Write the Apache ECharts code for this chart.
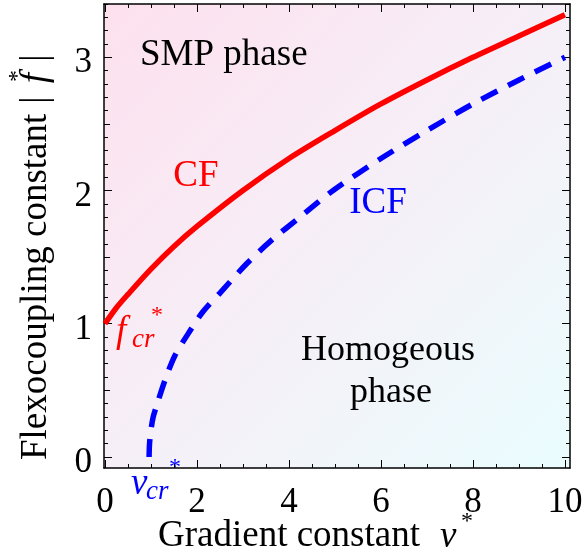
<!DOCTYPE html>
<html>
<head>
<meta charset="utf-8">
<script src="https://cdn.jsdelivr.net/npm/echarts@6/dist/echarts.min.js"></script>
<style>
  html, body { margin: 0; padding: 0; background: #fff; }
  #main { width: 586px; height: 557px; }
</style>
</head>
<body>
<div id="main"></div>
<script>
// CF curve (solid red) and ICF curve (dashed blue)
var cfV = [0, 0.25, 0.5, 1, 1.5, 2, 3, 4, 5, 6, 7, 8, 9, 10];
var cfF = [1.0, 1.12, 1.22, 1.41, 1.58, 1.73, 2.0, 2.24, 2.45, 2.65, 2.83, 3.0, 3.16, 3.32];
var icfV = [0.96, 0.97, 1.0, 1.05, 1.12, 1.3, 1.52, 1.8, 2.13, 2.5, 3.08, 3.6, 4.24, 4.96, 6, 7, 8, 9, 10];
var icfF = [0.0, 0.1, 0.2, 0.3, 0.38, 0.57, 0.76, 0.92, 1.09, 1.23, 1.45, 1.62, 1.80, 2.0, 2.24, 2.45, 2.65, 2.83, 3.0];

// tick labels
var xLabels = [0, 2, 4, 6, 8, 10];
var yLabels = [0, 1, 2, 3];
var xMinor = [];
for (var i = 0; i <= 20; i++) xMinor.push(i * 0.5);
var yMinor = [];
for (var j = 0; j <= 34; j++) yMinor.push(j / 10);
var yHalf = [0.5, 1.5, 2.5];

var serif = '"Liberation Serif", "DejaVu Serif", serif';

function pairs(xs, ys) {
  var out = [];
  for (var k = 0; k < xs.length; k++) out.push([xs[k], ys[k]]);
  return out;
}

var X_MIN = -0.02, X_MAX = 10.11;
var Y_MIN = -0.083, Y_MAX = 3.4;

function xAx(pos, ticks, len, showLine, labels) {
  return {
    type: 'value', position: pos, min: X_MIN, max: X_MAX,
    axisLine: { show: showLine, onZero: false, lineStyle: { color: '#000', width: 1.5 } },
    axisTick: { show: true, inside: true, length: len, customValues: ticks, lineStyle: { color: '#000', width: 1 } },
    axisLabel: labels ? {
      show: true, customValues: labels, margin: 17,
      fontFamily: serif, fontSize: 35, color: '#000'
    } : { show: false },
    splitLine: { show: false }
  };
}

function yAx(pos, ticks, len, showLine, labels) {
  return {
    type: 'value', position: pos, min: Y_MIN, max: Y_MAX,
    axisLine: { show: showLine, onZero: false, lineStyle: { color: '#000', width: 1.5 } },
    axisTick: { show: true, inside: true, length: len, customValues: ticks, lineStyle: { color: '#000', width: 1 } },
    axisLabel: labels ? {
      show: true, customValues: labels, margin: 12,
      verticalAlign: 'top', lineHeight: 12,
      fontFamily: serif, fontSize: 35, color: '#000'
    } : { show: false },
    splitLine: { show: false }
  };
}

var chart = echarts.init(document.getElementById('main'), null, { renderer: 'canvas' });

var option = {
  backgroundColor: '#ffffff',
  animation: false,
  grid: {
    left: 104, right: 16, top: 4, bottom: 89,
    show: true, borderWidth: 0,
    backgroundColor: {
      type: 'linear', x: 0, y: 0, x2: 1, y2: 1,
      colorStops: [
        { offset: 0, color: '#fde0ee' },
        { offset: 0.5, color: '#f6eff7' },
        { offset: 1, color: '#eafdfe' }
      ]
    }
  },
  xAxis: [
    xAx('bottom', xLabels, 8, true, xLabels),
    xAx('bottom', xMinor, 4, false, null),
    xAx('top', xLabels, 8, true, null),
    xAx('top', xMinor, 4, false, null)
  ],
  yAxis: [
    yAx('left', yLabels, 8, true, yLabels),
    yAx('left', yMinor, 4, false, null),
    yAx('left', yHalf, 6, false, null),
    yAx('right', yLabels, 8, true, null),
    yAx('right', yMinor, 4, false, null),
    yAx('right', yHalf, 6, false, null)
  ],
  series: [
    {
      name: 'CF', type: 'line', xAxisIndex: 0, yAxisIndex: 0,
      data: pairs(cfV, cfF), smooth: 0.3, showSymbol: false,
      lineStyle: { color: '#ff0000', width: 5.5 }
    },
    {
      name: 'ICF', type: 'line', xAxisIndex: 0, yAxisIndex: 0,
      data: pairs(icfV, icfF), smooth: 0.3, showSymbol: false,
      lineStyle: { color: '#0000ff', width: 5.5, type: [18, 12], cap: 'butt' }
    }
  ],
  graphic: [
    { type: 'text', left: 140, top: 37, style: { text: 'SMP phase', font: '37px ' + serif, fill: '#000' } },
    { type: 'text', x: 196, y: 176, style: { text: 'CF', font: '37px ' + serif, fill: '#ff0000', align: 'center', verticalAlign: 'middle' } },
    { type: 'text', x: 378, y: 203, style: { text: 'ICF', font: '37px ' + serif, fill: '#0000ff', align: 'center', verticalAlign: 'middle' } },
    { type: 'text', x: 388, y: 351, style: { text: 'Homogeous', font: '36px ' + serif, fill: '#000', align: 'center', verticalAlign: 'middle' } },
    { type: 'text', x: 391, y: 393, style: { text: 'phase', font: '36px ' + serif, fill: '#000', align: 'center', verticalAlign: 'middle' } },
    // f_cr*
    { type: 'text', x: 116, y: 332, style: { text: 'f', font: 'italic 37px ' + serif, fill: '#ff0000', align: 'left', verticalAlign: 'middle' } },
    { type: 'text', x: 132, y: 340, style: { text: 'cr', font: 'italic 27px ' + serif, fill: '#ff0000', align: 'left', verticalAlign: 'middle' } },
    { type: 'text', x: 157, y: 316, style: { text: '*', font: '24px ' + serif, fill: '#ff0000', align: 'center', verticalAlign: 'middle' } },
    // v_cr*
    { type: 'text', x: 131, y: 484, style: { text: 'v', font: 'italic 37px ' + serif, fill: '#0000ff', align: 'left', verticalAlign: 'middle' } },
    { type: 'text', x: 146, y: 492, style: { text: 'cr', font: 'italic 27px ' + serif, fill: '#0000ff', align: 'left', verticalAlign: 'middle' } },
    { type: 'text', x: 175, y: 468, style: { text: '*', font: '24px ' + serif, fill: '#0000ff', align: 'center', verticalAlign: 'middle' } },
    // x axis title
    { type: 'text', x: 158, y: 536, style: { text: 'Gradient constant', font: '37px ' + serif, fill: '#000', align: 'left', verticalAlign: 'middle' } },
    { type: 'text', x: 440, y: 537, style: { text: 'v', font: 'italic 37px ' + serif, fill: '#000', align: 'left', verticalAlign: 'middle' } },
    { type: 'text', x: 467, y: 522, style: { text: '*', font: '24px ' + serif, fill: '#000', align: 'center', verticalAlign: 'middle' } },
    // y axis title (rotated)
    { type: 'text', x: 36, y: 460, rotation: Math.PI / 2, style: { text: 'Flexocoupling constant', font: '37px ' + serif, fill: '#000', align: 'left', verticalAlign: 'middle' } },
    { type: 'text', x: 36, y: 100, rotation: Math.PI / 2, style: { text: '|', font: '37px ' + serif, fill: '#000', align: 'center', verticalAlign: 'middle' } },
    { type: 'text', x: 36, y: 78, rotation: Math.PI / 2, style: { text: 'f', font: 'italic 37px ' + serif, fill: '#000', align: 'center', verticalAlign: 'middle' } },
    { type: 'text', x: 18, y: 76, rotation: Math.PI / 2, style: { text: '*', font: '24px ' + serif, fill: '#000', align: 'center', verticalAlign: 'middle' } },
    { type: 'text', x: 36, y: 58, rotation: Math.PI / 2, style: { text: '|', font: '37px ' + serif, fill: '#000', align: 'center', verticalAlign: 'middle' } }
  ]
};

chart.setOption(option);
</script>
</body>
</html>
